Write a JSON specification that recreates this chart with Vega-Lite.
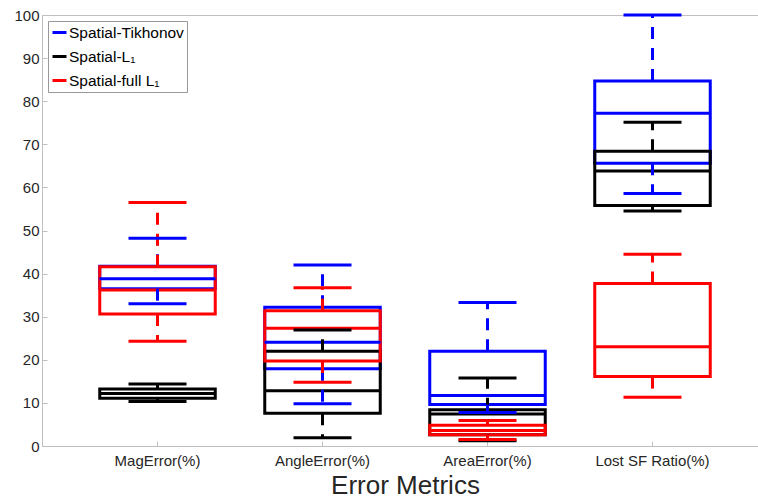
{
  "$schema": "https://vega.github.io/schema/vega-lite/v6.json",
  "width": 726,
  "height": 431,
  "autosize": {"type": "none"},
  "padding": {"left": 42, "top": 15, "right": 0, "bottom": 55},
  "background": "white",
  "config": {
    "font": "Liberation Sans",
    "view": {"stroke": "#c0c0c0", "strokeWidth": 1},
    "axis": {
      "domainColor": "#bfbfbf",
      "tickColor": "#bfbfbf",
      "labelColor": "#262626",
      "labelFontSize": 15,
      "labelFont": "Liberation Sans",
      "grid": false
    }
  },
  "data": {
    "values": [
      {"metric": "MagError(%)", "method": "Spatial-Tikhonov", "lo": 33.0, "q1": 36.5, "med": 38.8, "q3": 41.7, "hi": 48.2},
      {"metric": "MagError(%)", "method": "Spatial-L₁", "lo": 10.3, "q1": 11.1, "med": 12.2, "q3": 13.2, "hi": 14.4},
      {"metric": "MagError(%)", "method": "Spatial-full L₁", "lo": 24.3, "q1": 30.6, "med": 36.2, "q3": 41.6, "hi": 56.5},
      {"metric": "AngleError(%)", "method": "Spatial-Tikhonov", "lo": 9.8, "q1": 17.9, "med": 24.1, "q3": 32.2, "hi": 42.0},
      {"metric": "AngleError(%)", "method": "Spatial-L₁", "lo": 1.9, "q1": 7.6, "med": 12.8, "q3": 22.0, "hi": 26.9},
      {"metric": "AngleError(%)", "method": "Spatial-full L₁", "lo": 14.8, "q1": 19.7, "med": 27.3, "q3": 31.4, "hi": 36.7},
      {"metric": "AreaError(%)", "method": "Spatial-Tikhonov", "lo": 7.8, "q1": 9.6, "med": 11.7, "q3": 22.0, "hi": 33.3},
      {"metric": "AreaError(%)", "method": "Spatial-L₁", "lo": 1.2, "q1": 2.6, "med": 7.4, "q3": 8.4, "hi": 15.8},
      {"metric": "AreaError(%)", "method": "Spatial-full L₁", "lo": 1.5, "q1": 2.6, "med": 3.6, "q3": 4.8, "hi": 5.9},
      {"metric": "Lost SF Ratio(%)", "method": "Spatial-Tikhonov", "lo": 58.6, "q1": 65.6, "med": 77.2, "q3": 84.7, "hi": 100.0},
      {"metric": "Lost SF Ratio(%)", "method": "Spatial-L₁", "lo": 54.5, "q1": 55.8, "med": 63.8, "q3": 68.4, "hi": 75.1},
      {"metric": "Lost SF Ratio(%)", "method": "Spatial-full L₁", "lo": 11.3, "q1": 16.1, "med": 23.0, "q3": 37.7, "hi": 44.5}
    ]
  },
  "encoding": {
    "x": {
      "field": "metric",
      "type": "nominal",
      "sort": null,
      "scale": {"domain": ["MagError(%)", "AngleError(%)", "AreaError(%)", "Lost SF Ratio(%)"], "paddingInner": 0, "paddingOuter": 0.2},
      "axis": {
        "labelAngle": 0,
        "labelFontSize": 15,
        "tickSize": -5,
        "labelPadding": 12,
        "title": "Error Metrics",
        "titleFontSize": 26,
        "titleFontWeight": "normal",
        "titleColor": "#262626",
        "titlePadding": 4
      }
    },
    "color": {
      "field": "method",
      "type": "nominal",
      "scale": {"domain": ["Spatial-Tikhonov", "Spatial-L₁", "Spatial-full L₁"], "range": ["#0000ff", "#000000", "#ff0000"]},
      "legend": {
        "title": null,
        "orient": "none",
        "legendX": 6,
        "legendY": 6,
        "symbolType": "stroke",
        "symbolStrokeWidth": 3,
        "symbolSize": 196,
        "labelFontSize": 15.5,
        "labelColor": "#000000",
        "labelOffset": 1,
        "rowPadding": 7,
        "padding": 3,
        "strokeColor": "#999999",
        "fillColor": "white"
      }
    }
  },
  "layer": [
    {
      "mark": {"type": "bar", "filled": false, "strokeWidth": 3, "width": {"band": 0.7}},
      "encoding": {
        "y": {"field": "q1", "type": "quantitative", "scale": {"domain": [0, 100], "nice": false}, "axis": {"values": [0,10,20,30,40,50,60,70,80,90,100], "tickSize": -5, "labelPadding": 8, "labelFontSize": 15, "title": null}},
        "y2": {"field": "q3"}
      }
    },
    {
      "mark": {"type": "tick", "thickness": 3, "size": 116, "opacity": 1},
      "encoding": {"y": {"field": "med", "type": "quantitative"}}
    },
    {
      "mark": {"type": "rule", "strokeWidth": 3, "strokeDash": [12, 9]},
      "encoding": {"y": {"field": "q3", "type": "quantitative"}, "y2": {"field": "hi"}}
    },
    {
      "mark": {"type": "rule", "strokeWidth": 3, "strokeDash": [12, 9]},
      "encoding": {"y": {"field": "q1", "type": "quantitative"}, "y2": {"field": "lo"}}
    },
    {
      "mark": {"type": "tick", "thickness": 3, "size": 58, "opacity": 1},
      "encoding": {"y": {"field": "hi", "type": "quantitative"}}
    },
    {
      "mark": {"type": "tick", "thickness": 3, "size": 58, "opacity": 1},
      "encoding": {"y": {"field": "lo", "type": "quantitative"}}
    }
  ]
}
